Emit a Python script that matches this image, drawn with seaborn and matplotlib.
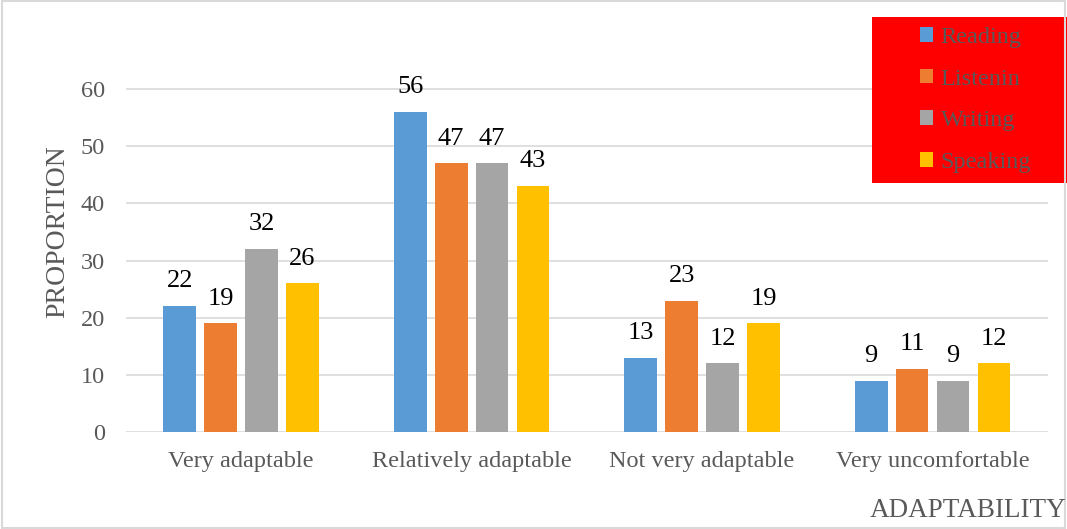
import numpy as np
import pandas as pd
import matplotlib
matplotlib.use("Agg")
import matplotlib.pyplot as plt
from matplotlib.patches import Rectangle
import seaborn as sns

# ── Data ──────────────────────────────────────────────────────────────────────
categories = ["Very adaptable", "Relatively adaptable", "Not very adaptable", "Very uncomfortable"]
skills = ["Reading", "Listenin", "Writing", "Speaking"]
reading = [22, 56, 13, 9]
listening = [19, 47, 23, 11]
writing = [32, 47, 12, 9]
speaking = [26, 43, 19, 12]
colors = ["#5B9BD5", "#ED7D31", "#A5A5A5", "#FFC000"]

rows = []
for skill, vals in zip(skills, [reading, listening, writing, speaking]):
    for cat, v in zip(categories, vals):
        rows.append({"Adaptability": cat, "Skill": skill, "Proportion": v})
df = pd.DataFrame(rows)

# ── Plot ──────────────────────────────────────────────────────────────────────
sns.set_theme(style="white")
plt.rcParams["font.family"] = ["Liberation Serif", "DejaVu Serif"]

fig = plt.figure(figsize=(10.67, 5.29), dpi=100)
ax = fig.add_axes([0.118, 0.1834, 0.864, 0.756])

sns.barplot(data=df, x="Adaptability", y="Proportion", hue="Skill",
            order=categories, hue_order=skills, palette=colors,
            width=0.71, gap=0.2, saturation=1, linewidth=0, ax=ax, legend=True)

for cont in ax.containers:
    ax.bar_label(cont, padding=10, fontsize=19, color="black")

ax.set_ylim(0, 70)
ax.set_xlim(-0.5, 3.5)
ax.set_yticks(range(0, 61, 10))
ax.yaxis.grid(True, color="#d9d9d9", linewidth=1.2)
ax.set_axisbelow(True)
for s in ax.spines.values():
    s.set_visible(False)
ax.tick_params(axis="both", length=0, labelsize=17.5, colors="#595959")
ax.tick_params(axis="y", pad=15)
ax.tick_params(axis="x", pad=14)
ax.set_xlabel("")
ax.set_ylabel("PROPORTION", fontsize=20, color="#595959", labelpad=8)

fig.text(0.907, 0.035, "ADAPTABILITY", fontsize=19.5, color="#595959", ha="center", va="center")

# legend on a red box
fig.patches.append(Rectangle((872 / 1067, 1 - 183 / 529), 195 / 1067, 166 / 529,
                             transform=fig.transFigure, facecolor="#FF0000",
                             edgecolor="none", zorder=0))
handles, labels = ax.get_legend_handles_labels()
ax.legend_.remove()
fig.legend(handles, labels, loc="center left", bbox_to_anchor=(898 / 1067, 1 - 100 / 529),
           frameon=False, fontsize=17.5, labelcolor="#595959", handlelength=0.55,
           handleheight=0.55, handletextpad=0.3, labelspacing=0.85)

# thin border around the whole picture
fig.patches.append(Rectangle((0.002, 0.002), 0.996, 0.996, transform=fig.transFigure,
                             facecolor="none", edgecolor="#d9d9d9", linewidth=1.5))

fig.savefig("out.png", dpi=100)
